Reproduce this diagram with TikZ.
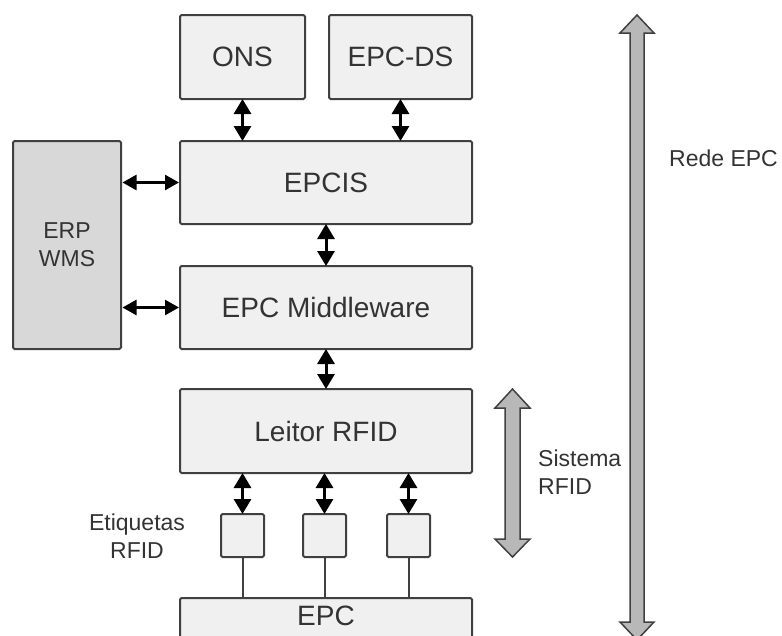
\documentclass[tikz,border=0pt]{standalone}
\usepackage{fontspec}
\setmainfont{Liberation Sans}
\usetikzlibrary{arrows.meta,calc}

\definecolor{boxfill}{HTML}{F0F0F0}
\definecolor{erpfill}{HTML}{D8D8D8}
\definecolor{edge}{HTML}{404040}
\definecolor{ink}{HTML}{333333}
\definecolor{bandfill}{HTML}{B8B8B8}

\tikzset{
  block/.style={draw=edge, line width=2pt, fill=boxfill, rounded corners=1.5pt,
    inner sep=0pt, outer sep=0pt, text=ink, font=\fontsize{28}{32}\selectfont},
  tagbox/.style={block, minimum width=43pt, minimum height=43pt},
  note/.style={text=ink, font=\fontsize{23}{28}\selectfont, align=center, inner sep=0pt},
  link/.style={line width=3pt, black,
    {Triangle[width=17pt,length=15pt]}-{Triangle[width=17pt,length=15pt]}},
  hlink/.style={line width=2.5pt, black,
    {Triangle[width=15pt,length=14pt]}-{Triangle[width=15pt,length=14pt]}},
  wire/.style={line width=2pt, edge},
  band/.style={draw=edge, fill=bandfill, line width=1.5pt, line join=miter}
}

\begin{document}
\begin{tikzpicture}[x=1pt, y=-1pt]
  \useasboundingbox (0,0) rectangle (782,635);

  % upper services
  \node[block, minimum width=125pt, minimum height=84pt] (ons) at (242.5,57) {ONS};
  \node[block, minimum width=143pt, minimum height=84pt] (epcds) at (400.5,57) {EPC-DS};

  % main stack
  \node[block, minimum width=292pt, minimum height=83pt] (epcis) at (326,182.5) {EPCIS};
  \node[block, minimum width=292pt, minimum height=83pt] (mw) at (326,307.5) {EPC Middleware};
  \node[block, minimum width=292pt, minimum height=84pt] (reader) at (326,431) {Leitor RFID};

  % enterprise systems
  \node[block, fill=erpfill, minimum width=108pt, minimum height=208pt,
        font=\fontsize{23}{28}\selectfont, align=center] (erp) at (67,245) {ERP\\WMS};

  % tags
  \node[tagbox] (t1) at (242.5,535.5) {};
  \node[tagbox] (t2) at (324.5,535.5) {};
  \node[tagbox] (t3) at (408.5,535.5) {};
  \node[note] (tagtxt) at (137,536) {Etiquetas\\RFID};

  % EPC bar at the bottom
  \node[block, minimum width=292pt, minimum height=84pt, anchor=north] (epc) at (326,598) {};
  \node[text=ink, font=\fontsize{28}{32}\selectfont, inner sep=0pt] (epctxt) at (326,616) {EPC};

  % links between layers
  \draw[link] (ons.south) -- (ons.south |- epcis.north);
  \draw[link] (epcds.south) -- (epcds.south |- epcis.north);
  \draw[link] (epcis.south) -- (mw.north);
  \draw[link] (mw.south) -- (reader.north);
  \draw[hlink] ($(erp.east |- epcis)+(1.5,0)$) -- ($(epcis.west)+(-1,0)$);
  \draw[hlink] ($(erp.east |- mw)+(1.5,0)$) -- ($(mw.west)+(-1,0)$);
  \foreach \t in {t1,t2,t3} {
    \draw[link] (\t.north |- reader.south) -- (\t.north);
    \draw[wire] (\t.south) -- (\t.south |- epc.north);
  }

  % scope bands
  \coordinate (rfidtop) at (512.5,389);
  \coordinate (netop) at (637,15);
  \draw[band] (rfidtop) -- ++(17.5,19) -- ++(-10,0) -- (520,539) -- ++(10,0)
     -- (512.5,557) -- (495,539) -- ++(10,0) -- (505,408) -- ++(-10,0) -- cycle;
  \draw[band] (netop) -- (654,33) -- (644,33) -- (644,622) -- (654,622)
     -- (637,640) -- (620,622) -- (630,622) -- (630,33) -- (620,33) -- cycle;

  \node[note, align=left, anchor=west] (sys) at (538,472) {Sistema\\RFID};
  \node[note, anchor=west] (net) at (669,158) {Rede EPC};
\end{tikzpicture}
\end{document}
